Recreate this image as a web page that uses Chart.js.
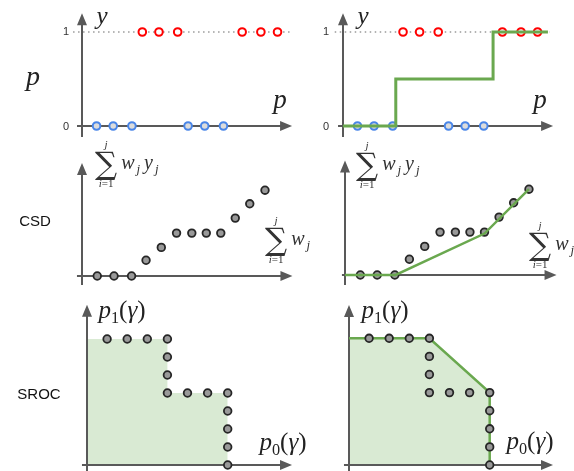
<!DOCTYPE html>
<html>
<head>
<meta charset="utf-8">
<script src="https://cdn.jsdelivr.net/npm/chart.js@4.4.1/dist/chart.umd.min.js"></script>
<style>
  body { margin: 0; background: #fff; }
  #fig { position: relative; width: 574px; height: 471px; overflow: hidden; font-family: "Liberation Sans", Arial, sans-serif; }
  canvas { position: absolute; }
  .t { position: absolute; transform: translate(-50%, -50%); white-space: nowrap; line-height: 1; }
  .m { font-family: "Liberation Serif", serif; color: #222; }
  .m i { font-style: italic; }
  .tick { font-size: 11px; color: #333; }
  .row { font-size: 15px; color: #111; }
  .sum { position: absolute; display: flex; align-items: center; color: #333; white-space: nowrap; }
  .lim { display: flex; flex-direction: column; align-items: center; line-height: 1; font-family: "Liberation Serif", serif; font-size: 11px; }
  .lim .s { font-family: "DejaVu Serif", serif; font-size: 31px; line-height: 0.9; }
  .lim i { font-style: italic; }
  .sum .v { font-family: "Liberation Serif", serif; font-style: italic; font-size: 20px; margin-left: 4px; letter-spacing: 1px; }
  sub { font-size: 0.65em; vertical-align: -0.3em; font-style: normal; }
  .v sub { font-style: italic; margin-left: 1px; margin-right: 3px; }
</style>
</head>
<body>
<div id="fig">
  <canvas id="c1"></canvas>
  <canvas id="c2"></canvas>
  <canvas id="c3"></canvas>
  <canvas id="c4"></canvas>
  <canvas id="c5"></canvas>
  <canvas id="c6"></canvas>

  <!-- fila de arriba -->
  <span class="t m" style="left:102px;top:15px;font-size:25px"><i>y</i></span>
  <span class="t m" style="left:33px;top:76px;font-size:28px"><i>p</i></span>
  <span class="t m" style="left:280px;top:99px;font-size:27px"><i>p</i></span>
  <span class="t tick" style="left:66px;top:31px">1</span>
  <span class="t tick" style="left:66px;top:126px">0</span>
  <span class="t m" style="left:363px;top:15px;font-size:25px"><i>y</i></span>
  <span class="t m" style="left:540px;top:99px;font-size:27px"><i>p</i></span>
  <span class="t tick" style="left:326px;top:31px">1</span>
  <span class="t tick" style="left:326px;top:126px">0</span>

  <!-- CSD -->
  <span class="t row" style="left:35px;top:220px">CSD</span>
  <div class="sum" style="left:95px;top:139px">
    <div class="lim"><i>j</i><span class="s">∑</span><span><i>i</i>=1</span></div>
    <span class="v">w<sub>j</sub>y<sub>j</sub></span>
  </div>
  <div class="sum" style="left:265px;top:215px">
    <div class="lim"><i>j</i><span class="s">∑</span><span><i>i</i>=1</span></div>
    <span class="v">w<sub>j</sub></span>
  </div>
  <div class="sum" style="left:356px;top:140px">
    <div class="lim"><i>j</i><span class="s">∑</span><span><i>i</i>=1</span></div>
    <span class="v">w<sub>j</sub>y<sub>j</sub></span>
  </div>
  <div class="sum" style="left:529px;top:220px">
    <div class="lim"><i>j</i><span class="s">∑</span><span><i>i</i>=1</span></div>
    <span class="v">w<sub>j</sub></span>
  </div>

  <!-- SROC -->
  <span class="t row" style="left:39px;top:393px">SROC</span>
  <span class="t m" style="left:122px;top:312px;font-size:25px"><i>p</i><sub>1</sub>(<i>γ</i>)</span>
  <span class="t m" style="left:283px;top:444px;font-size:25px"><i>p</i><sub>0</sub>(<i>γ</i>)</span>
  <span class="t m" style="left:385px;top:312px;font-size:25px"><i>p</i><sub>1</sub>(<i>γ</i>)</span>
  <span class="t m" style="left:530px;top:443px;font-size:25px"><i>p</i><sub>0</sub>(<i>γ</i>)</span>
</div>

<script>
// puntuaciones ordenadas (fila de arriba)
const blueP = [0.07, 0.15, 0.24, 0.51, 0.59, 0.68];
const redP = [0.29, 0.37, 0.46, 0.77, 0.86, 0.94];
const stepX = [0, 0.255, 0.725, 0.99];
const stepY = [0, 0.5, 1, 1];

// CSD: suma acumulada de pesos vs suma de w*y
const csdX = [1, 2.1, 3.25, 4.2, 5.2, 6.2, 7.2, 8.15, 9.1, 10.05, 11, 12];
const csdY = [0, 0, 0, 1.1, 2, 3, 3, 3, 3, 4.05, 5.05, 6];
const csdHullX = [0, 3.3, 9.1, 12];
const csdHullY = [0, 0, 2.9, 6];

// SROC
const srocX = [1, 2, 3, 4, 4, 4, 4, 5, 6, 7, 7, 7, 7, 7];
const srocY = [7, 7, 7, 7, 6, 5, 4, 4, 4, 4, 3, 2, 1, 0];
const srocStepX = [0, 4, 4, 7, 7];
const srocStepY = [7, 7, 4, 4, 0];
const srocHullX = [0, 4, 7, 7];
const srocHullY = [7, 7, 4, 0];

const GREEN = '#6aa84f';
const FILL = '#d9ead3';
const AXIS = '#595959';

const pts = (xs, ys) => xs.map((x, i) => ({ x: x, y: ys[i] }));
const flat = (xs, v) => xs.map(x => ({ x: x, y: v }));

const arrowAxes = {
  id: 'arrowAxes',
  beforeDatasetsDraw(chart, args, opts) {
    const { ctx } = chart;
    const sx = chart.scales.x, sy = chart.scales.y;
    const ox = sx.getPixelForValue(0), oy = sy.getPixelForValue(0);
    const x0 = sx.getPixelForValue(opts.x[0]), x1 = sx.getPixelForValue(opts.x[1]);
    const y0 = sy.getPixelForValue(opts.y[0]), y1 = sy.getPixelForValue(opts.y[1]);
    const L = 12, W = 5;
    ctx.save();
    ctx.strokeStyle = AXIS;
    ctx.fillStyle = AXIS;
    ctx.lineWidth = 2;
    ctx.beginPath();
    ctx.moveTo(x0, oy); ctx.lineTo(x1 - L + 1, oy);
    ctx.moveTo(ox, y0); ctx.lineTo(ox, y1 + L - 1);
    ctx.stroke();
    ctx.beginPath();
    ctx.moveTo(x1, oy); ctx.lineTo(x1 - L, oy - W); ctx.lineTo(x1 - L, oy + W); ctx.closePath();
    ctx.moveTo(ox, y1); ctx.lineTo(ox - W, y1 + L); ctx.lineTo(ox + W, y1 + L); ctx.closePath();
    ctx.fill();
    ctx.restore();
  }
};

function dots(data, stroke, fill, r, bw) {
  return {
    data: data, order: 1,
    pointRadius: r, pointBorderWidth: bw,
    pointBorderColor: stroke, pointBackgroundColor: fill
  };
}

function line(data, color, width, extra) {
  return Object.assign({
    type: 'line', data: data, order: 2,
    borderColor: color, borderWidth: width,
    pointRadius: 0, fill: false, tension: 0
  }, extra || {});
}

function makePanel(id, box, origin, unit, axes, datasets) {
  const cv = document.getElementById(id);
  cv.style.left = box[0] + 'px';
  cv.style.top = box[1] + 'px';
  cv.width = box[2];
  cv.height = box[3];
  return new Chart(cv, {
    type: 'scatter',
    data: { datasets: datasets },
    options: {
      responsive: false,
      animation: false,
      events: [],
      layout: { padding: 0, autoPadding: false },
      plugins: {
        legend: { display: false },
        tooltip: { enabled: false },
        filler: { drawTime: 'beforeDraw' },
        arrowAxes: axes
      },
      scales: {
        x: { type: 'linear', display: false,
             min: (box[0] - origin[0]) / unit[0],
             max: (box[0] + box[2] - origin[0]) / unit[0] },
        y: { type: 'linear', display: false,
             min: (origin[1] - box[1] - box[3]) / unit[1],
             max: (origin[1] - box[1]) / unit[1] }
      }
    },
    plugins: [arrowAxes]
  });
}

const dotted = { borderDash: [1.5, 3.5], order: 5 };

// fila 1
makePanel('c1', [60, 0, 240, 145], [82, 126], [208, 94],
  { x: [-0.024, 1.01], y: [-0.117, 1.2] },
  [
    dots(flat(redP, 1), '#ff0000', '#ffffff', 3.8, 2),
    dots(flat(blueP, 0), '#4a86e8', '#dcdcdc', 3.8, 2),
    line(flat([-0.043, 1.0], 1), '#9a9a9a', 1.5, dotted)
  ]);

makePanel('c2', [320, 0, 254, 145], [343, 126], [207, 94],
  { x: [-0.024, 1.015], y: [-0.117, 1.2] },
  [
    line(pts(stepX, stepY), GREEN, 3, { stepped: 'before', order: 0 }),
    dots(flat(redP, 1), '#ff0000', '#ffffff', 3.8, 2),
    dots(flat(blueP, 0), '#4a86e8', '#dcdcdc', 3.8, 2),
    line(flat([-0.04, 1.0], 1), '#9a9a9a', 1.5, dotted)
  ]);

// fila 2 (CSD)
makePanel('c3', [60, 145, 240, 145], [82, 276], [15.25, 14.3],
  { x: [-0.33, 13.8], y: [-0.63, 7.9] },
  [ dots(pts(csdX, csdY), '#262626', '#999999', 3.8, 1.8) ]);

makePanel('c4', [320, 145, 254, 145], [345, 275], [15.33, 14.3],
  { x: [-0.2, 13.8], y: [-0.7, 8.0] },
  [
    line(pts(csdHullX, csdHullY), GREEN, 2.5, { order: 0 }),
    dots(pts(csdX, csdY), '#262626', '#999999', 3.8, 1.8)
  ]);

// fila 3 (SROC)
makePanel('c5', [60, 290, 240, 181], [87, 465], [20.1, 18],
  { x: [-0.25, 10.2], y: [-0.35, 8.9] },
  [
    dots(pts(srocX, srocY), '#262626', '#999999', 3.8, 1.8),
    line(pts(srocStepX, srocStepY), FILL, 0, { fill: 'origin', backgroundColor: FILL, order: 9 })
  ]);

makePanel('c6', [320, 290, 254, 181], [349, 465], [20.1, 18.1],
  { x: [-0.25, 10.15], y: [-0.35, 8.84] },
  [
    dots(pts(srocX, srocY), '#262626', '#999999', 3.8, 1.8),
    line(pts(srocHullX, srocHullY), GREEN, 2.5, { fill: 'origin', backgroundColor: FILL, order: 2 })
  ]);
</script>
</body>
</html>
